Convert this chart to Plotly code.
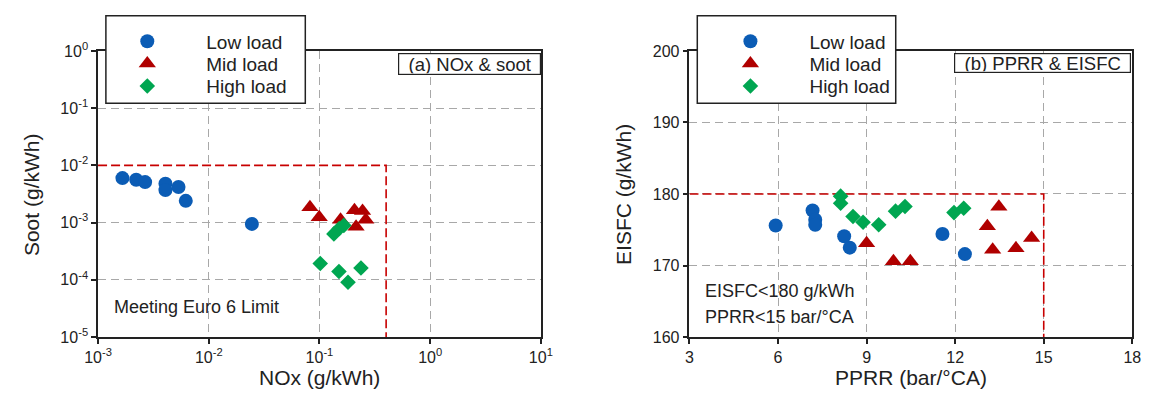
import plotly.graph_objects as go

W, H = 1157, 405

# ---- panel (a): NOx vs soot emissions (g/kWh) ----
low_nox = [0.00166, 0.00221, 0.00266, 0.00406, 0.00406, 0.00533, 0.0062, 0.0245]
low_soot = [0.0060, 0.0056, 0.0051, 0.0048, 0.0037, 0.0042, 0.0024, 0.00095]
mid_nox = [0.082, 0.0995, 0.155, 0.207, 0.214, 0.245, 0.262]
mid_soot = [0.00186, 0.00124, 0.00112, 0.00164, 0.000845, 0.0016, 0.00112]
high_nox = [0.135, 0.151, 0.166, 0.1016, 0.150, 0.181, 0.237]
high_soot = [0.000635, 0.000787, 0.000894, 0.000193, 0.00014, 0.000091, 0.000161]

# ---- panel (b): PPRR (bar/°CA) vs EISFC (g/kWh) ----
low_pprr = [5.92, 7.17, 7.26, 7.26, 8.24, 8.43, 11.57, 12.33]
low_eisfc = [175.6, 177.7, 176.4, 175.7, 174.1, 172.5, 174.4, 171.6]
mid_pprr = [9.0, 9.91, 10.48, 13.09, 13.48, 13.27, 14.06, 14.59]
mid_eisfc = [173.1, 170.6, 170.6, 175.5, 178.2, 172.2, 172.4, 173.85]
high_pprr = [8.12, 8.12, 8.54, 8.88, 9.41, 9.98, 10.30, 11.96, 12.29]
high_eisfc = [179.7, 178.7, 176.85, 176.05, 175.7, 177.6, 178.25, 177.4, 178.0]

# regulatory / target limits
NOX_LIMIT, SOOT_LIMIT = 0.4, 0.01
PPRR_LIMIT, EISFC_LIMIT = 15, 180

log_ticks = [1e-5, 1e-4, 1e-3, 1e-2, 1e-1, 1e0, 1e1]
log_labels = ["10<sup>-5</sup>", "10<sup>-4</sup>", "10<sup>-3</sup>", "10<sup>-2</sup>",
              "10<sup>-1</sup>", "10<sup>0</sup>", "10<sup>1</sup>"]

series_names = ["Low load", "Mid load", "High load"]
colors = ["#0b5cb5", "#b00000", "#00a651"]
symbols = ["circle", "triangle-up", "diamond"]
sizes = [14, 15, 12]

FONT = "Arial, Liberation Sans, sans-serif"
INK = "#222222"


def px(x):
    return x / W


def py(y):
    return 1 - y / H


fig = go.Figure()

# limit boxes
fig.add_trace(go.Scatter(x=[1e-3, NOX_LIMIT, NOX_LIMIT], y=[SOOT_LIMIT, SOOT_LIMIT, 1e-5],
                         mode="lines", line=dict(color="#c80000", width=1.6, dash="9px,4px"),
                         showlegend=False, hoverinfo="skip", xaxis="x", yaxis="y"))
fig.add_trace(go.Scatter(x=[3, PPRR_LIMIT, PPRR_LIMIT], y=[EISFC_LIMIT, EISFC_LIMIT, 160],
                         mode="lines", line=dict(color="#c80000", width=1.6, dash="9px,4px"),
                         showlegend=False, hoverinfo="skip", xaxis="x2", yaxis="y2"))

panel_a = [(low_nox, low_soot), (mid_nox, mid_soot), (high_nox, high_soot)]
panel_b = [(low_pprr, low_eisfc), (mid_pprr, mid_eisfc), (high_pprr, high_eisfc)]

for i in range(3):
    mk = dict(color=colors[i], symbol=symbols[i], size=sizes[i], line=dict(width=0))
    xa, ya = panel_a[i]
    fig.add_trace(go.Scatter(x=xa, y=ya, mode="markers", marker=mk, name=series_names[i],
                             xaxis="x", yaxis="y", legend="legend" if i == 0 else f"legend{i + 1}"))
    xb, yb = panel_b[i]
    fig.add_trace(go.Scatter(x=xb, y=yb, mode="markers", marker=mk, name=series_names[i],
                             xaxis="x2", yaxis="y2", legend=f"legend{i + 4}"))

axis_common = dict(
    showline=True, linecolor=INK, linewidth=1.5, mirror=True,
    ticks="outside", ticklen=5, tickwidth=1.5, tickcolor=INK,
    showgrid=True, gridcolor="#a8a8a8", gridwidth=1, griddash="8px,5px",
    zeroline=False, tickfont=dict(family=FONT, size=16, color=INK),
)

fig.update_layout(
    width=W, height=H, margin=dict(l=0, r=0, t=0, b=0),
    paper_bgcolor="white", plot_bgcolor="white",
    font=dict(family=FONT, color=INK),
    xaxis=dict(axis_common, type="log", range=[-3, 1], tickvals=log_ticks, ticktext=log_labels,
               domain=[px(86), px(539)], anchor="y"),
    yaxis=dict(axis_common, type="log", range=[-5, 0], tickvals=log_ticks, ticktext=log_labels,
               domain=[py(343), py(42)], anchor="x"),
    xaxis2=dict(axis_common, range=[3, 18], dtick=3, tick0=3,
                domain=[px(691), px(1144)], anchor="y2"),
    yaxis2=dict(axis_common, range=[160, 200], dtick=10,
                domain=[py(343), py(42)], anchor="x2"),
)

# legend frames (white boxes overlapping the top of each panel)
for x0, x1 in [(94, 298), (699, 902)]:
    fig.add_shape(type="rect", xref="paper", yref="paper", layer="above",
                  x0=px(x0), x1=px(x1), y0=py(97), y1=py(5),
                  line=dict(color=INK, width=1.5), fillcolor="white")

# one single-entry legend per row so the rows sit at their exact spacing
ITEMW = 108
row_y = [32, 55.5, 79]
legend_layout = {}
for p, left in enumerate([76, 693]):
    for r in range(3):
        key = "legend" if (p == 0 and r == 0) else f"legend{p * 3 + r + 1}"
        legend_layout[key] = dict(
            x=px(left), y=py(row_y[r]), xanchor="left", yanchor="middle",
            bgcolor="rgba(0,0,0,0)", borderwidth=0, itemwidth=ITEMW,
            font=dict(family=FONT, size=19, color=INK), itemclick=False,
        )
fig.update_layout(**legend_layout)

ann = []
# panel tags
ann.append(dict(text="(a) NOx & soot", x=px(465.5), y=py(56), xref="paper", yref="paper",
                showarrow=False, xanchor="center", yanchor="middle",
                font=dict(family=FONT, size=18.5, color=INK), bgcolor="white",
                bordercolor=INK, borderwidth=1.2, borderpad=1, width=139, height=18))
ann.append(dict(text="(b) PPRR & EISFC", x=px(1052.5), y=py(55), xref="paper", yref="paper",
                showarrow=False, xanchor="center", yanchor="middle",
                font=dict(family=FONT, size=18.5, color=INK), bgcolor="white",
                bordercolor=INK, borderwidth=1.2, borderpad=1, width=173, height=16))
# in-plot notes
ann.append(dict(text="Meeting Euro 6 Limit", x=px(100), y=py(311), xref="paper", yref="paper",
                showarrow=False, xanchor="left", yanchor="middle",
                font=dict(family=FONT, size=18, color=INK)))
ann.append(dict(text="EISFC&lt;180 g/kWh", x=px(705), y=py(294.5), xref="paper", yref="paper",
                showarrow=False, xanchor="left", yanchor="middle",
                font=dict(family=FONT, size=18, color=INK)))
ann.append(dict(text="PPRR&lt;15 bar/°CA", x=px(705), y=py(322), xref="paper", yref="paper",
                showarrow=False, xanchor="left", yanchor="middle",
                font=dict(family=FONT, size=18, color=INK)))
# axis titles
for text, x, y, ang in [("NOx (g/kWh)", 312.5, 386, 0), ("Soot (g/kWh)", 18, 193, -90),
                        ("PPRR (bar/°CA)", 917.5, 386, 0), ("EISFC (g/kWh)", 623.5, 193, -90)]:
    ann.append(dict(text=text, x=px(x), y=py(y), xref="paper", yref="paper", showarrow=False,
                    xanchor="center", yanchor="middle", textangle=ang,
                    font=dict(family=FONT, size=21, color=INK)))
fig.update_layout(annotations=ann)

fig.write_html("out.html")
